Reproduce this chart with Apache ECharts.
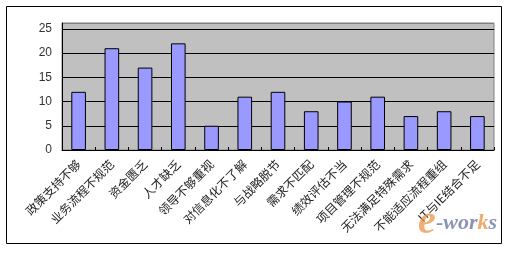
<!DOCTYPE html>
<html>
<head>
<meta charset="utf-8">
<script src="https://cdn.jsdelivr.net/npm/echarts@6/dist/echarts.min.js"></script>
<style>
html, body { margin: 0; padding: 0; background: #fff; }
#main { width: 507px; height: 253px; }
</style>
</head>
<body>
<div id="main"></div>
<script>
var categories = ['政策支持不够', '业务流程不规范', '资金匮乏', '人才缺乏', '领导不够重视', '对信息化不了解',
    '与战略脱节', '需求不匹配', '绩效评估不当', '项目管理不规范', '无法满足特殊需求', '不能适应流程重组', 'IT与IE结合不足'];
var values = [12, 21, 17, 22, 5, 11, 12, 8, 10, 11, 7, 8, 7];

var myChart = echarts.init(document.getElementById('main'));

var option = {
    backgroundColor: '#fff',
    animation: false,
    textStyle: { fontFamily: '"Noto Sans CJK SC", sans-serif' },
    grid: {
        left: 62, right: 13, top: 23, bottom: 103,
        show: true,
        backgroundColor: '#c0c0c0',
        borderColor: '#808080',
        borderWidth: 1
    },
    xAxis: {
        type: 'category',
        data: categories,
        axisLine: { lineStyle: { color: '#000', width: 1 } },
        axisTick: { show: true, inside: true, length: 3, lineStyle: { color: '#000' } },
        axisLabel: {
            rotate: 45,
            interval: 0,
            margin: 12,
            fontSize: 12,
            color: '#222'
        }
    },
    yAxis: {
        type: 'value',
        min: 0,
        max: 26.2,
        interval: 5,
        axisLine: { show: true, lineStyle: { color: '#000', width: 1 } },
        axisTick: { show: false },
        axisLabel: { showMaxLabel: false, fontSize: 12, color: '#333', margin: 10, fontFamily: 'Liberation Sans, Arial, sans-serif' },
        splitLine: {
            show: true,
            lineStyle: { color: ['#000', '#000', '#000', '#000', '#000', '#000', '#808080'], width: 1 }
        }
    },
    graphic: [
        {
            type: 'rect',
            shape: { x: 6.5, y: 6.5, width: 495, height: 237 },
            style: { fill: 'none', stroke: '#000', lineWidth: 1 },
            z: 100
        },
        {
            type: 'text',
            right: 10,
            bottom: 10,
            style: {
                text: '{e|e}{w|-wor}{k|k}{s|s}',
                rich: {
                    e: { fontSize: 40, fontStyle: 'italic', fontWeight: 'bold', fill: 'rgba(235,150,70,0.75)', fontFamily: 'Liberation Serif' },
                    w: { fontSize: 22, fontStyle: 'italic', fontWeight: 'bold', fill: 'rgba(110,120,165,0.8)', fontFamily: 'Liberation Serif' },
                    k: { fontSize: 22, fontStyle: 'italic', fontWeight: 'bold', fill: 'rgba(235,150,70,0.8)', fontFamily: 'Liberation Serif' },
                    s: { fontSize: 22, fontStyle: 'italic', fontWeight: 'bold', fill: 'rgba(110,120,165,0.8)', fontFamily: 'Liberation Serif' }
                }
            },
            z: 50
        }
    ],
    series: [
        {
            type: 'bar',
            data: values,
            barWidth: '44%',
            itemStyle: {
                color: '#9999ff',
                borderColor: '#000',
                borderWidth: 1
            }
        }
    ]
};

myChart.setOption(option);
</script>
</body>
</html>
